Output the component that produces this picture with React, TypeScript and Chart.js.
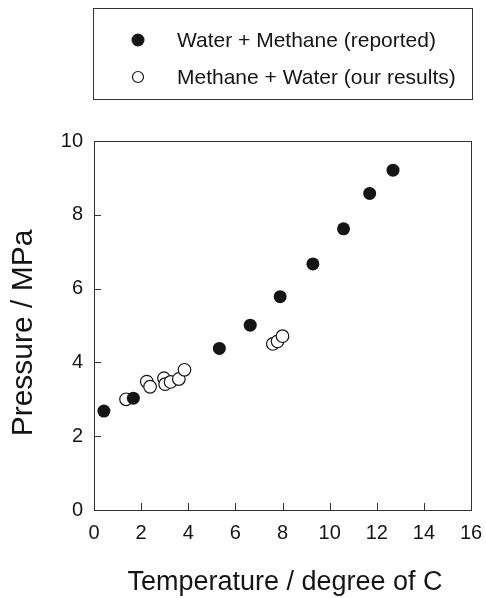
import React, { useEffect, useRef } from "react";
import { Chart, registerables } from "chart.js";

Chart.register(...registerables);

const reportedLabel = "Water + Methane (reported)";
const oursLabel = "Methane + Water (our results)";
const xTitle = "Temperature / degree of C";
const yTitle = "Pressure / MPa";

const reportedT = [0.42, 1.67, 5.32, 6.63, 7.9, 9.29, 10.59, 11.7, 12.69];
const reportedP = [2.68, 3.03, 4.38, 5.01, 5.78, 6.67, 7.62, 8.58, 9.21];

const oursT = [1.36, 2.24, 2.38, 2.97, 3.02, 3.25, 3.6, 3.84, 7.59, 7.79, 8.0];
const oursP = [3.0, 3.48, 3.34, 3.57, 3.41, 3.47, 3.55, 3.8, 4.5, 4.57, 4.71];

const xTicks = [0, 2, 4, 6, 8, 10, 12, 14, 16];
const yTicks = [0, 2, 4, 6, 8, 10];

const FONT = "'Liberation Sans', Arial, Helvetica, sans-serif";
const INK = "#151515";

const decorPlugin = {
  id: "decor",
  afterDraw(chart: any) {
    const ctx = chart.ctx as CanvasRenderingContext2D;
    const a = chart.chartArea;
    const xs = chart.scales.x;
    const ys = chart.scales.y;
    ctx.save();
    ctx.strokeStyle = "#333";
    ctx.lineWidth = 1;
    // plot frame
    ctx.strokeRect(Math.round(a.left) + 0.5, Math.round(a.top) + 0.5, Math.round(a.right - a.left), Math.round(a.bottom - a.top));
    // inward ticks
    ctx.beginPath();
    xTicks.forEach((v) => {
      const px = Math.round(xs.getPixelForValue(v)) + 0.5;
      ctx.moveTo(px, a.bottom);
      ctx.lineTo(px, a.bottom - 7);
    });
    yTicks.forEach((v) => {
      const py = Math.round(ys.getPixelForValue(v)) + 0.5;
      ctx.moveTo(a.left, py);
      ctx.lineTo(a.left + 7, py);
    });
    ctx.stroke();

    // legend box
    ctx.strokeRect(93.5, 8.5, 379, 91);
    ctx.fillStyle = INK;
    ctx.beginPath();
    ctx.arc(138, 40, 6.5, 0, Math.PI * 2);
    ctx.fill();
    ctx.beginPath();
    ctx.fillStyle = "#fff";
    ctx.strokeStyle = INK;
    ctx.lineWidth = 1.2;
    ctx.arc(138, 77, 5.5, 0, Math.PI * 2);
    ctx.fill();
    ctx.stroke();
    ctx.fillStyle = INK;
    ctx.font = `21px ${FONT}`;
    ctx.textAlign = "left";
    ctx.textBaseline = "middle";
    ctx.fillText(reportedLabel, 177, 41);
    ctx.fillText(oursLabel, 177, 78);

    // axis titles
    ctx.font = `27px ${FONT}`;
    ctx.textAlign = "center";
    ctx.fillText(xTitle, 285, 583);
    ctx.save();
    ctx.translate(24, 333);
    ctx.rotate(-Math.PI / 2);
    ctx.font = `30px ${FONT}`;
    ctx.fillText(yTitle, 0, 0);
    ctx.restore();
    ctx.restore();
  },
};

export default function App() {
  const ref = useRef<HTMLCanvasElement | null>(null);
  useEffect(() => {
    if (!ref.current) return;
    const chart = new Chart(ref.current, {
      type: "scatter",
      data: {
        datasets: [
          {
            label: reportedLabel,
            data: reportedT.map((t, i) => ({ x: t, y: reportedP[i] })),
            backgroundColor: INK,
            borderColor: INK,
            borderWidth: 0,
            pointRadius: 6.5,
          },
          {
            label: oursLabel,
            data: oursT.map((t, i) => ({ x: t, y: oursP[i] })),
            backgroundColor: "#ffffff",
            borderColor: INK,
            borderWidth: 1.2,
            pointRadius: 6.3,
          },
        ],
      },
      options: {
        responsive: false,
        animation: false,
        layout: { padding: { top: 141, right: 15, left: 0, bottom: 0 } },
        plugins: { legend: { display: false }, tooltip: { enabled: false } },
        scales: {
          x: {
            type: "linear",
            min: 0,
            max: 16,
            afterFit: (s: any) => {
              s.height = 88;
              s.paddingLeft = 0;
              s.paddingRight = 0;
            },
            afterBuildTicks: (s: any) => {
              s.ticks = xTicks.map((v) => ({ value: v }));
            },
            grid: { display: false, drawTicks: false },
            border: { display: false },
            ticks: {
              padding: 11,
              color: INK,
              font: { family: FONT, size: 20 },
              maxRotation: 0,
            },
          },
          y: {
            type: "linear",
            min: 0,
            max: 10,
            afterFit: (s: any) => {
              s.width = 94;
              s.paddingTop = 0;
              s.paddingBottom = 0;
            },
            afterBuildTicks: (s: any) => {
              s.ticks = yTicks.map((v) => ({ value: v }));
            },
            grid: { display: false, drawTicks: false },
            border: { display: false },
            ticks: {
              padding: 11,
              color: INK,
              font: { family: FONT, size: 20 },
            },
          },
        },
      },
      plugins: [decorPlugin],
    });
    return () => chart.destroy();
  }, []);
  return (
    <div style={{ position: "absolute", left: 0, top: 0, width: 486, height: 598, background: "#fff" }}>
      <canvas ref={ref} width={486} height={598} style={{ width: 486, height: 598 }} />
    </div>
  );
}
